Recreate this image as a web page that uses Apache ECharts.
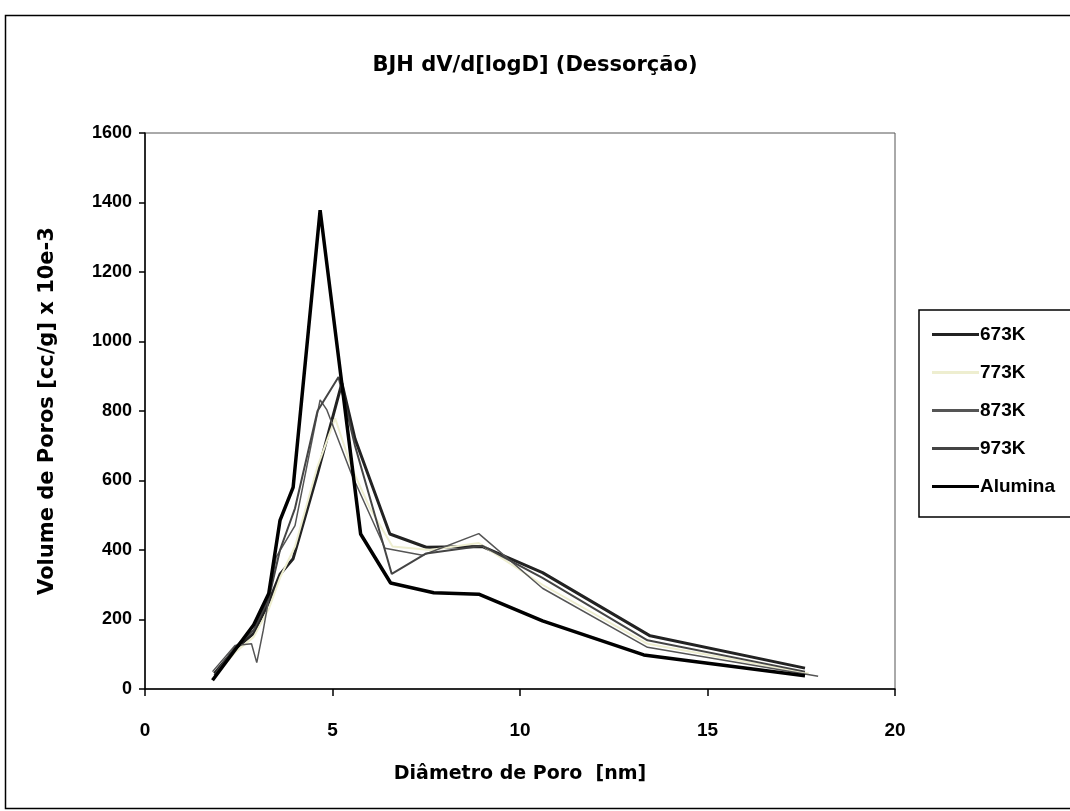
<!DOCTYPE html>
<html>
<head>
<meta charset="utf-8">
<script src="https://cdn.jsdelivr.net/npm/echarts@6/dist/echarts.min.js"></script>
<style>
html,body{margin:0;padding:0;background:#fff;}
#chart{width:1070px;height:811px;}
</style>
</head>
<body>
<div id="chart"></div>
<script>
// ---- data (diameter nm, volume cc/g x 10e-3) ----
var seriesNames = ['673K', '773K', '873K', '973K', 'Alumina'];
var data673 = [[1.85,45],[2.4,115],[2.9,160],[3.3,250],[3.6,330],[3.95,375],[4.6,620],[5.25,880],[5.6,720],[6.53,446],[7.5,408],[9.0,410],[10.6,335],[13.47,153],[17.6,60]];
var data773 = [[1.85,35],[2.4,105],[2.9,150],[3.3,230],[3.6,320],[4.0,410],[4.6,640],[5.07,779],[5.5,640],[6.0,520],[6.6,410],[7.6,400],[8.9,420],[10.6,300],[13.4,130],[17.7,45]];
var data873 = [[1.8,50],[2.4,125],[2.84,130],[2.98,76],[3.15,167],[3.5,380],[4.0,470],[4.67,832],[4.85,803],[5.5,620],[6.4,405],[7.4,385],[8.9,447],[10.6,290],[13.4,120],[17.95,37]];
var data973 = [[1.85,40],[2.4,120],[2.9,170],[3.3,260],[3.6,400],[4.0,520],[4.6,800],[5.16,898],[5.6,700],[6.58,331],[7.5,390],[9.0,412],[10.6,320],[13.4,140],[17.6,50]];
var dataAlumina = [[1.8,25],[2.9,185],[3.3,275],[3.6,485],[3.95,580],[4.67,1378],[5.75,446],[6.55,305],[7.7,277],[8.9,273],[10.6,196],[13.3,98],[17.6,38]];
var xTicks = {min:0, max:20, interval:5};
var yTicks = {min:0, max:1600, interval:200};

var wide = 'DejaVu Sans, Verdana, sans-serif';
var arial = 'Liberation Sans, Arial, sans-serif';
var chart = echarts.init(document.getElementById('chart'));
function line(name, data, color, width, type) {
  return {
    name: name, type: 'line', data: data, symbol: 'none', smooth: false,
    lineStyle: {color: color, width: width, type: type || 'solid'},
    itemStyle: {color: color}
  };
}
chart.setOption({
  animation: false,
  backgroundColor: '#fff',
  graphic: [{
    type: 'rect', left: 3, top: 13, shape: {width: 1080, height: 793},
    style: {fill: 'none', stroke: '#000', lineWidth: 1.5}, silent: true
  }],
  title: {
    text: 'BJH dV/d[logD] (Dessorção)',
    left: 'center', top: 50,
    textStyle: {fontFamily: wide, fontSize: 21, fontWeight: 'bold', color: '#000'}
  },
  grid: {left: 145, right: 175, top: 133, bottom: 122, show: true, borderColor: '#555', borderWidth: 1, backgroundColor: '#fff'},
  legend: {
    orient: 'vertical', left: 919, top: 310,
    data: seriesNames,
    icon: 'rect',
    itemWidth: 47, itemHeight: 3, itemGap: 19,
    padding: [15, 60, 21, 13],
    backgroundColor: '#fff', borderColor: '#000', borderWidth: 1.5, borderRadius: 0,
    textStyle: {fontFamily: arial, fontSize: 19, fontWeight: 'bold', color: '#000', padding: [0,0,0,-4]}
  },
  xAxis: {
    type: 'value', min: xTicks.min, max: xTicks.max, interval: xTicks.interval,
    name: 'Diâmetro de Poro  [nm]', nameLocation: 'middle', nameGap: 76,
    nameTextStyle: {fontFamily: wide, fontSize: 19, fontWeight: 'bold', color: '#000'},
    axisLine: {lineStyle: {color: '#000', width: 1.5}},
    axisTick: {lineStyle: {color: '#000', width: 1.5}, length: 7},
    axisLabel: {fontFamily: arial, fontSize: 19, fontWeight: 'bold', color: '#000', margin: 32,
      formatter: function (v) { return String(v); }},
    splitLine: {show: false}
  },
  yAxis: {
    type: 'value', min: yTicks.min, max: yTicks.max, interval: yTicks.interval,
    name: 'Volume de Poros [cc/g] x 10e-3', nameLocation: 'middle', nameGap: 87,
    nameTextStyle: {fontFamily: wide, fontSize: 21, fontWeight: 'bold', color: '#000'},
    axisLine: {lineStyle: {color: '#000', width: 1.5}},
    axisTick: {lineStyle: {color: '#000', width: 1.5}, length: 6},
    axisLabel: {fontFamily: arial, fontSize: 18, fontWeight: 'bold', color: '#000', margin: 13,
      formatter: function (v) { return String(v); }},
    splitLine: {show: false}
  },
  series: [
    line('673K', data673, '#222', 3),
    line('773K', data773, '#eeeed0', 2),
    line('873K', data873, '#555', 1.5),
    line('973K', data973, '#444', 2),
    line('Alumina', dataAlumina, '#000', 3.5)
  ]
});
</script>
</body>
</html>
